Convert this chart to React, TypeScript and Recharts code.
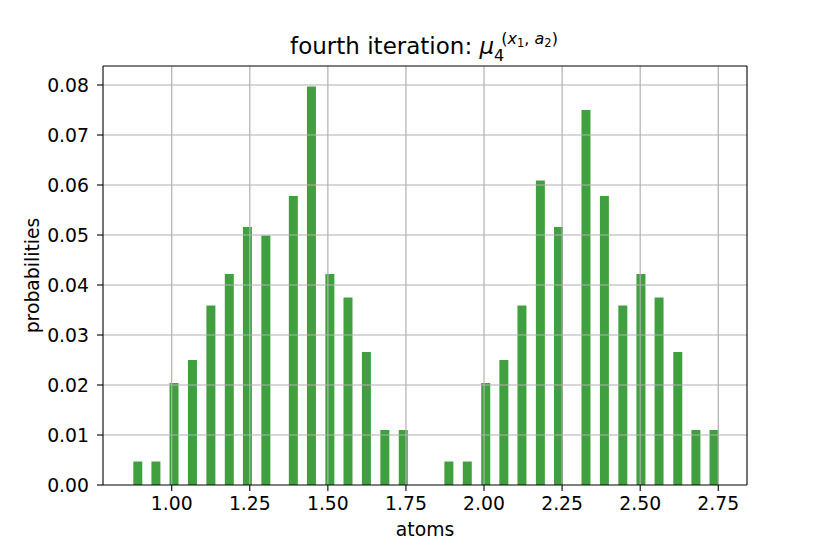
import React from 'react';
import { BarChart, Bar, XAxis, YAxis, ReferenceLine } from 'recharts';

const atoms: number[] = [
  0.890, 0.948, 1.006, 1.065, 1.124, 1.183, 1.241, 1.300,
  1.388, 1.446, 1.505, 1.563, 1.622, 1.681, 1.740,
  1.886, 1.945, 2.004, 2.062, 2.120, 2.179, 2.237,
  2.325, 2.384, 2.443, 2.501, 2.559, 2.619, 2.677, 2.735,
];

const probabilities: number[] = [
  0.0047, 0.0047, 0.0204, 0.0250, 0.0359, 0.0422, 0.0516, 0.0499,
  0.0578, 0.0797, 0.0422, 0.0375, 0.0266, 0.0110, 0.0110,
  0.0047, 0.0047, 0.0204, 0.0250, 0.0359, 0.0609, 0.0516,
  0.0750, 0.0578, 0.0359, 0.0422, 0.0375, 0.0266, 0.0110, 0.0110,
];

const xTicks: number[] = [1.0, 1.25, 1.5, 1.75, 2.0, 2.25, 2.5, 2.75];
const yTicks: number[] = [0, 0.01, 0.02, 0.03, 0.04, 0.05, 0.06, 0.07, 0.08];
const xDomain: [number, number] = [0.78, 2.842];
const yDomain: [number, number] = [0, 0.0838];

const data = atoms.map((a, i) => ({ atom: a, p: probabilities[i] }));

const FONT = 'DejaVu Sans';
const TICK_FS = 18.8;
const GRID = '#b0b0b0';

export default function App() {
  return (
    <div style={{ position: 'absolute', left: 0, top: 0, width: 830, height: 554, background: '#fff' }}>
      <BarChart
        width={830}
        height={554}
        data={data}
        margin={{ top: 66, right: 83, bottom: 29, left: 0 }}
      >
        <XAxis
          dataKey="atom"
          type="number"
          domain={xDomain}
          ticks={xTicks}
          allowDataOverflow
          tickFormatter={(v: number) => v.toFixed(2)}
          height={40}
          tickSize={6}
          tickMargin={6}
          stroke="#000"
          tick={{ fill: '#000', fontSize: TICK_FS, fontFamily: FONT }}
          axisLine={{ stroke: '#000', strokeWidth: 1.1 }}
          tickLine={{ stroke: '#000', strokeWidth: 1.1 }}
        />
        <YAxis
          type="number"
          domain={yDomain}
          ticks={yTicks}
          allowDataOverflow
          tickFormatter={(v: number) => v.toFixed(2)}
          width={103}
          tickSize={6}
          tickMargin={8}
          stroke="#000"
          tick={{ fill: '#000', fontSize: TICK_FS, fontFamily: FONT }}
          axisLine={{ stroke: '#000', strokeWidth: 1.1 }}
          tickLine={{ stroke: '#000', strokeWidth: 1.1 }}
        />
        <Bar dataKey="p" fill="#008000" fillOpacity={0.75} barSize={9} isAnimationActive={false} />
        {xTicks.map((t) => (
          <ReferenceLine key={'x' + t} x={t} stroke={GRID} strokeWidth={1.2} />
        ))}
        {yTicks.slice(1).map((t) => (
          <ReferenceLine key={'y' + t} y={t} stroke={GRID} strokeWidth={1.2} />
        ))}
        <ReferenceLine y={yDomain[1]} stroke="#000" strokeWidth={1.1} />
        <ReferenceLine x={xDomain[1]} stroke="#000" strokeWidth={1.1} />
      </BarChart>
      <svg
        width={830}
        height={554}
        style={{ position: 'absolute', left: 0, top: 0, pointerEvents: 'none' }}
        fontFamily={FONT}
      >
        <text x={424} y={54} textAnchor="middle" fontSize={23} fill="#000">
          <tspan>fourth iteration: </tspan>
          <tspan fontStyle="italic">μ</tspan>
          <tspan fontSize={16} dy={7}>4</tspan>
          <tspan fontSize={16} dx={-3} dy={-17}>(</tspan>
          <tspan fontSize={16} fontStyle="italic">x</tspan>
          <tspan fontSize={11.5} dy={3}>1</tspan>
          <tspan fontSize={16} dy={-3}>, </tspan>
          <tspan fontSize={16} fontStyle="italic">a</tspan>
          <tspan fontSize={11.5} dy={3}>2</tspan>
          <tspan fontSize={16} dy={-3}>)</tspan>
        </text>
        <text x={425} y={536} textAnchor="middle" fontSize={TICK_FS} fill="#000">atoms</text>
        <text
          x={39}
          y={275.5}
          textAnchor="middle"
          fontSize={TICK_FS}
          fill="#000"
          transform="rotate(-90 39 275.5)"
        >
          probabilities
        </text>
      </svg>
    </div>
  );
}
